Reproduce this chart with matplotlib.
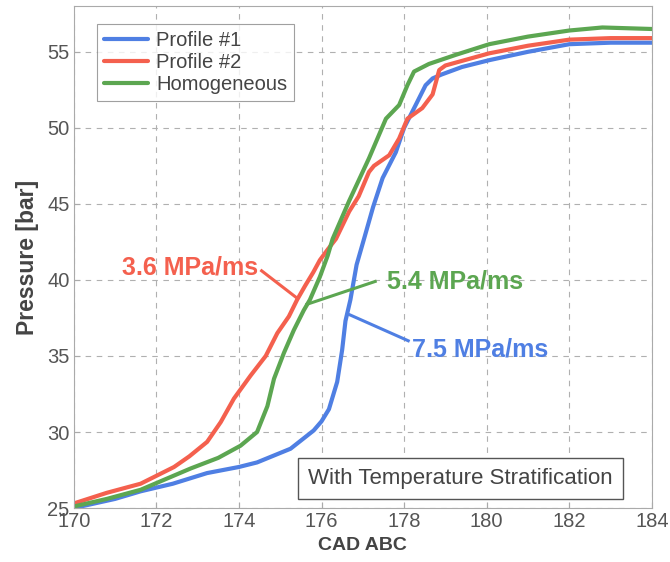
import numpy as np
import matplotlib
matplotlib.use('Agg')
from matplotlib import pyplot as plt

plt.rcParams['font.family'] = ['Liberation Sans', 'DejaVu Sans']

# Profile #1 (blue)
x_p1 = [170, 171, 171.62, 172.4, 173.23, 174.0, 174.44, 175.25, 175.81, 176.0, 176.18,
        176.38, 176.5, 176.58, 176.7, 176.85, 177.03, 177.25, 177.48, 177.8, 178.0,
        178.28, 178.52, 178.69, 178.9, 179.4, 180.06, 181, 182, 183, 184]
p_p1 = [25.0, 25.6, 26.1, 26.6, 27.3, 27.7, 28.0, 28.9, 30.1, 30.7, 31.5,
        33.3, 35.4, 37.3, 38.7, 41.0, 42.7, 44.8, 46.7, 48.4, 50.0,
        51.5, 52.8, 53.25, 53.5, 54.0, 54.45, 55.0, 55.5, 55.6, 55.6]

# Profile #2 (red)
x_p2 = [170, 170.8, 171.62, 172.43, 172.8, 173.23, 173.56, 173.88, 174.28, 174.65,
        174.93, 175.21, 175.41, 175.6, 175.8, 175.96, 176.15, 176.35, 176.67, 176.9,
        177.15, 177.27, 177.64, 177.88, 178.08, 178.44, 178.69, 178.85, 179.0, 180.06,
        181, 182, 183, 184]
p_p2 = [25.3, 26.0, 26.6, 27.7, 28.4, 29.35, 30.65, 32.2, 33.7, 35.0,
        36.5, 37.6, 38.7, 39.6, 40.5, 41.3, 42.0, 42.7, 44.5, 45.5,
        47.1, 47.5, 48.2, 49.3, 50.6, 51.3, 52.2, 53.8, 54.1, 54.9,
        55.4, 55.8, 55.9, 55.9]

# Homogeneous (green)
x_h = [170, 170.8, 171.62, 172.83, 173.5, 174.04, 174.44, 174.69, 174.85, 175.09,
       175.33, 175.57, 175.72, 175.96, 176.15, 176.27, 176.67, 177.15, 177.56, 177.88,
       178.08, 178.24, 178.6, 179.25, 180.06, 181, 182, 182.8, 184]
p_h = [25.1, 25.6, 26.2, 27.6, 28.3, 29.1, 30.0, 31.7, 33.5, 35.2,
       36.7, 38.0, 38.7, 40.2, 41.6, 42.7, 45.2, 48.0, 50.6, 51.5,
       52.8, 53.7, 54.2, 54.8, 55.5, 56.0, 56.4, 56.6, 56.5]

labels = ['Profile #1', 'Profile #2', 'Homogeneous']
blue, red, green = '#4f7fe3', '#f4604e', '#5ca651'
gray = '#555555'

fig = plt.figure(figsize=(6.7, 5.62), dpi=100)
ax = fig.add_axes([0.110, 0.096, 0.863, 0.893])

ax.plot(x_p1, p_p1, color=blue, lw=3, label=labels[0], solid_capstyle='round')
ax.plot(x_p2, p_p2, color=red, lw=3, label=labels[1], solid_capstyle='round')
ax.plot(x_h, p_h, color=green, lw=3, label=labels[2], solid_capstyle='round')

ax.set_xlim(170, 184)
ax.set_ylim(25, 58)
ax.set_xticks(np.arange(170, 185, 2))
ax.set_yticks(np.arange(25, 56, 5))
ax.grid(True, linestyle=(0, (5, 5)), color='#b0b0b0', lw=0.8)
ax.tick_params(direction='in', labelsize=14.5, labelcolor=gray, color='#aaaaaa',
               length=4, pad=3)
for s in ax.spines.values():
    s.set_color('#aaaaaa')

ax.set_xlabel('CAD ABC', fontsize=14, fontweight='bold', color='#444444', labelpad=4)
ax.set_ylabel('Pressure [bar]', fontsize=16.5, fontweight='bold', color='#444444', labelpad=6)

leg = ax.legend(loc='upper left', bbox_to_anchor=(0.04, 0.965), borderaxespad=0,
                fontsize=14.5, frameon=True, fancybox=False, handlelength=2.2,
                handletextpad=0.4, labelspacing=0.15, borderpad=0.35)
leg.get_frame().set_edgecolor('#888888')
leg.get_frame().set_linewidth(0.8)
for t in leg.get_texts():
    t.set_color('#444444')

# rate annotations
ax.plot([174.55, 175.41], [40.6, 38.8], color=red, lw=2.2)
ax.text(174.46, 40.8, '3.6 MPa/ms', color=red, fontsize=18, fontweight='bold',
        ha='right', va='center')
ax.plot([177.3, 175.65], [39.9, 38.4], color=green, lw=2.2)
ax.text(177.59, 39.9, '5.4 MPa/ms', color=green, fontsize=18, fontweight='bold',
        ha='left', va='center')
ax.plot([178.1, 176.69], [36.0, 37.7], color=blue, lw=2.2)
ax.text(178.19, 35.4, '7.5 MPa/ms', color=blue, fontsize=18, fontweight='bold',
        ha='left', va='center')

ax.text(179.36, 26.97, 'With Temperature Stratification', fontsize=16, color='#444444',
        ha='center', va='center',
        bbox=dict(boxstyle='square,pad=0.45', fc='white', ec='#555555', lw=1))

fig.savefig('out.png', dpi=100)
